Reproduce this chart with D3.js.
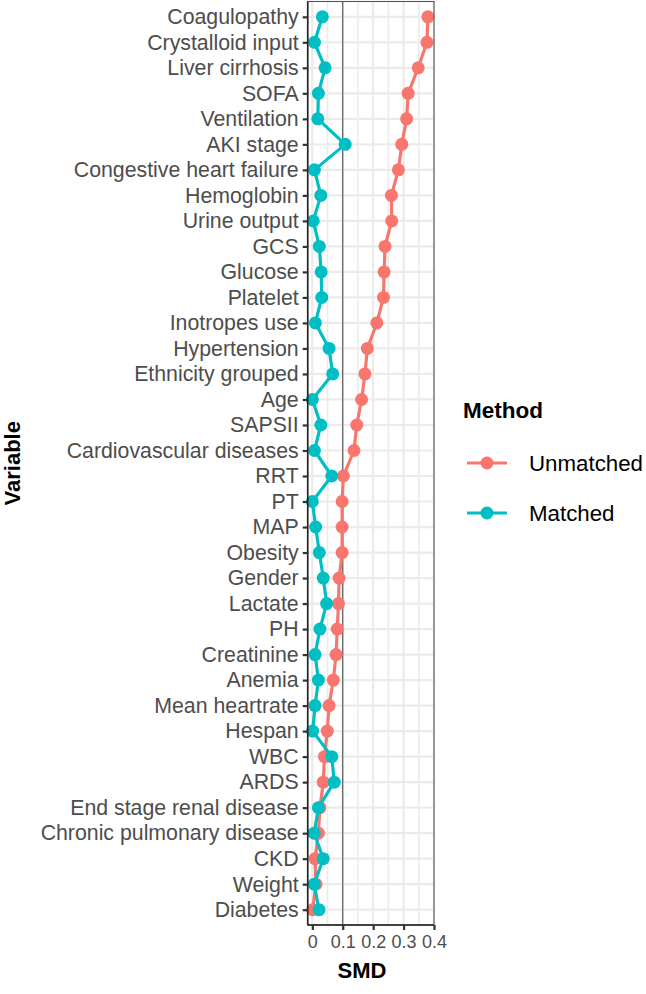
<!DOCTYPE html>
<html><head><meta charset="utf-8">
<script src="https://cdn.jsdelivr.net/npm/d3@7"></script>
<style>body{margin:0;background:#fff}svg{display:block}text{font-family:"Liberation Sans",Arial,sans-serif}</style>
</head><body>
<script>
const categories = ["Coagulopathy","Crystalloid input","Liver cirrhosis","SOFA","Ventilation","AKI stage","Congestive heart failure","Hemoglobin","Urine output","GCS","Glucose","Platelet","Inotropes use","Hypertension","Ethnicity grouped","Age","SAPSII","Cardiovascular diseases","RRT","PT","MAP","Obesity","Gender","Lactate","PH","Creatinine","Anemia","Mean heartrate","Hespan","WBC","ARDS","End stage renal disease","Chronic pulmonary disease","CKD","Weight","Diabetes"];
const unmatched = [0.380,0.377,0.348,0.315,0.310,0.294,0.283,0.260,0.261,0.239,0.236,0.234,0.212,0.181,0.173,0.162,0.146,0.137,0.102,0.098,0.098,0.098,0.088,0.086,0.082,0.078,0.069,0.055,0.049,0.040,0.036,0.025,0.020,0.009,0.012,0.001];
const matched = [0.033,0.007,0.042,0.020,0.018,0.108,0.007,0.028,0.003,0.023,0.029,0.031,0.010,0.055,0.067,0.000,0.028,0.007,0.064,0.000,0.011,0.023,0.036,0.047,0.025,0.009,0.020,0.009,0.001,0.064,0.072,0.020,0.006,0.036,0.006,0.022];
const xTicks = [0,0.1,0.2,0.3,0.4];
const xMinor = [0.05,0.15,0.25,0.35];
const seriesNames = ["Unmatched","Matched"];
const seriesColors = ["#F8766D","#00BFC4"];
const refLine = 0.1;

const W=646,H=994;
const svg=d3.select("body").append("svg").attr("width",W).attr("height",H);
const P={l:307.7,r:434,t:1.5,b:925};
const x=d3.scaleLinear().domain([-0.0152,0.4]).range([P.l,P.r]);
const y=d3.scalePoint().domain(categories).range([P.t,P.b]).padding(0.6);

const g=svg.append("g");
// grid
g.selectAll("line.minx").data(xMinor).join("line").attr("x1",d=>x(d)).attr("x2",d=>x(d)).attr("y1",P.t).attr("y2",P.b).attr("stroke","#EBEBEB").attr("stroke-width",1.6);
g.selectAll("line.majx").data(xTicks).join("line").attr("x1",d=>x(d)).attr("x2",d=>x(d)).attr("y1",P.t).attr("y2",P.b).attr("stroke","#EBEBEB").attr("stroke-width",2.2);
g.selectAll("line.majy").data(categories).join("line").attr("x1",P.l).attr("x2",P.r).attr("y1",d=>y(d)).attr("y2",d=>y(d)).attr("stroke","#EBEBEB").attr("stroke-width",2.2);
// ref line
g.append("line").attr("x1",x(refLine)).attr("x2",x(refLine)).attr("y1",P.t).attr("y2",P.b).attr("stroke","#4d4d4d").attr("stroke-width",1.1);

const series=[unmatched,matched];
series.forEach((vals,i)=>{
  const pts=categories.map((c,j)=>[x(vals[j]),y(c)]);
  g.append("path").attr("d",d3.line()(pts)).attr("fill","none").attr("stroke",seriesColors[i]).attr("stroke-width",3.2).attr("stroke-linejoin","round");
  g.selectAll(null).data(pts).join("circle").attr("cx",d=>d[0]).attr("cy",d=>d[1]).attr("r",6.5).attr("fill",seriesColors[i]);
});

// border
g.append("rect").attr("x",P.l).attr("y",P.t).attr("width",P.r-P.l).attr("height",P.b-P.t).attr("fill","none").attr("stroke","#555").attr("stroke-width",1.1);

// axes
const ya=svg.append("g").attr("transform",`translate(${P.l},0)`).call(d3.axisLeft(y).tickSize(5).tickPadding(4));
const xa=svg.append("g").attr("transform",`translate(0,${P.b})`).call(d3.axisBottom(x).tickValues(xTicks).tickFormat(d3.format("")).tickSize(5).tickPadding(5));
[ya,xa].forEach(a=>{
  a.select(".domain").attr("stroke","#222").attr("stroke-width",1.6);
  a.selectAll(".tick line").attr("stroke","#333").attr("stroke-width",2.2);
  a.selectAll(".tick text").attr("fill","#4D4D4D").style("font-family",'"Liberation Sans",Arial,sans-serif');
});
ya.selectAll(".tick text").style("font-size","21.3px");
xa.selectAll(".tick text").style("font-size","18px");
xa.select(".domain").attr("d",`M${P.l},0H${P.r}`);
ya.select(".domain").attr("d",`M0,${P.t}V${P.b}`);

// titles
svg.append("text").attr("transform",`translate(20,${(P.t+P.b)/2}) rotate(-90)`).attr("text-anchor","middle").style("font-weight","bold").style("font-size","22px").text("Variable");
svg.append("text").attr("x",362).attr("y",978).attr("text-anchor","middle").style("font-weight","bold").style("font-size","22px").text("SMD");

// legend
const L=svg.append("g");
L.append("text").attr("x",463).attr("y",418).style("font-weight","bold").style("font-size","22.5px").text("Method");
seriesNames.forEach((n,i)=>{
  const cy=463+i*50;
  L.append("line").attr("x1",467).attr("x2",507).attr("y1",cy).attr("y2",cy).attr("stroke",seriesColors[i]).attr("stroke-width",3.2);
  L.append("circle").attr("cx",487).attr("cy",cy).attr("r",6.5).attr("fill",seriesColors[i]);
  L.append("text").attr("x",529).attr("y",cy+8).style("font-size","22.3px").text(n);
});
</script>
</body></html>
